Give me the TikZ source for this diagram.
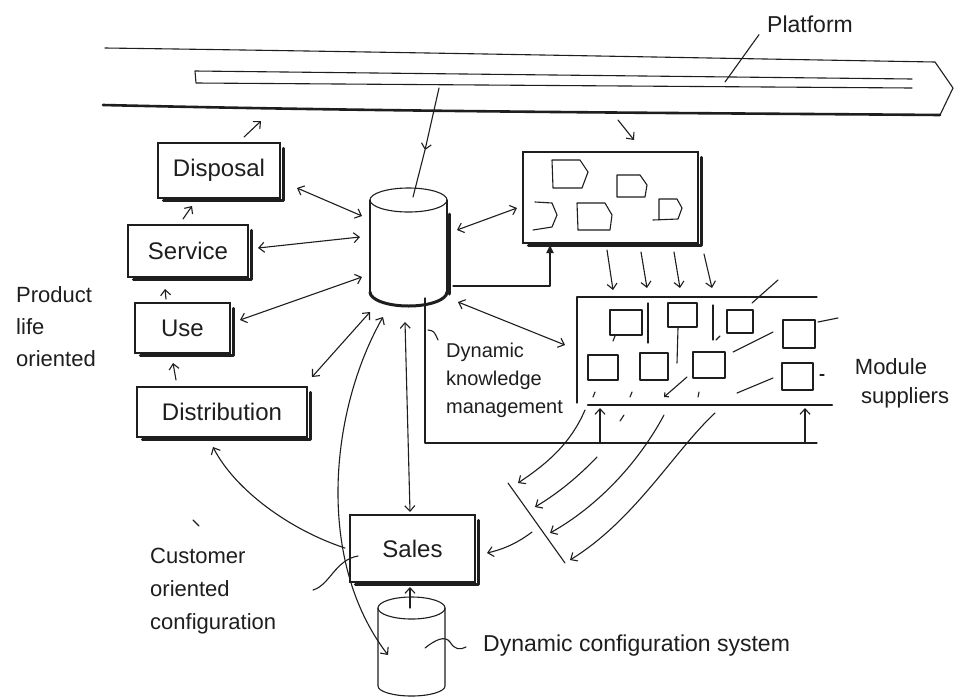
\documentclass[tikz,border=0pt]{standalone}
\usepackage{fontspec}
\setmainfont{Liberation Sans}
\usetikzlibrary{arrows.meta}
\definecolor{ink}{HTML}{1E1E1E}
\begin{document}
\begin{tikzpicture}[x=1pt,y=-1pt,
  sk/.style={draw=ink, line width=1.1pt, line cap=round, line join=round},
  shad/.style={draw=ink, line width=3pt, line cap=round, line join=round},
  tip/.tip={Straight Barb[length=5.5pt,width=10pt,line width=1.1pt]},
  arr/.style={sk, -tip},
  darr/.style={sk, tip-tip},
  fillarr/.style={sk, -{Latex[length=9pt,width=8pt]}},
  boxn/.style={draw=ink, line width=1.1pt, inner sep=0pt, text=ink, font=\fontsize{24}{28}\selectfont},
  lbl/.style={text=ink, inner sep=0pt, align=left, font=\fontsize{22}{33}\selectfont},
  ghost/.style={inner sep=0pt}]
\fill[white] (0,0) rectangle (966,697);
\useasboundingbox (0,0) rectangle (966,697);
\newcommand\shbox[1]{\draw[shad] ([shift={(2.5pt,-6pt)}]#1.north east) -- ([shift={(2.5pt,-2pt)}]#1.south east) -- ([shift={(6pt,-2pt)}]#1.south west);}

% ---------- Platform ----------
\node[ghost, minimum width=850pt, minimum height=70pt] (plat) at (527,82) {};
\draw[sk] (105,48) .. controls (400,52) and (700,58) .. (935,62) -- (953,88) -- (940,115);
\draw[sk, line width=2.6pt] (103,105) .. controls (400,112) and (700,113) .. (940,115);
\draw[sk] (912,79) -- (195,71) -- (196,83) -- (912,88);
\node[lbl, font=\fontsize{23}{28}\selectfont] (ptxt) at (810,24) {Platform};
\draw[sk] (ptxt.south west) ++(-8pt,-2pt) coordinate (pl1) -- (725,82);

% ---------- Main knowledge base cylinder ----------
\node[ghost, minimum width=77pt, minimum height=123pt] (db) at (408.5,248.5) {};
\draw[sk] (370,292) -- (370,200);
\draw[sk] (447,200) -- (447,292);
\draw[sk] (408.5,200) ellipse[x radius=38.5pt, y radius=12pt];
\draw[shad] (449,214) -- (449,294);
\draw[shad] (370,292) arc[start angle=180, end angle=360, x radius=38.5pt, y radius=14pt];

% platform -> db
\draw[arr] (439,88) -- (425,150);
\draw[sk] (425,150) -- (413,197);

% ---------- Product-life boxes ----------
\node[boxn, minimum width=122pt, minimum height=55pt] (disp) at (219,170.5) {Disposal};
\node[boxn, minimum width=120pt, minimum height=52pt] (serv) at (188,251) {Service};
\node[boxn, minimum width=95pt, minimum height=50pt] (use) at (182.5,328) {Use};
\node[boxn, minimum width=170pt, minimum height=50pt] (dist) at (222,412) {Distribution};
\shbox{disp}\shbox{serv}\shbox{use}\shbox{dist}

\draw[arr] (244,137) -- (261,121);
\draw[arr] (183,219) -- (192,206);
\draw[arr] (166,299) -- (165,289);
\draw[arr] (176,380) -- (173,363);

\node[lbl, font=\fontsize{22}{32}\selectfont] (plo) at (56,327) {Product\\life\\oriented};

% box <-> db
\draw[darr] (297,188) -- (362,216);
\draw[darr] (258,248) -- (360,237);
\draw[darr] (240,320) -- (362,277);
\draw[darr] (312,377) -- (370,312);

% ---------- Component box ----------
\node[ghost, draw=ink, line width=1.1pt, minimum width=175pt, minimum height=91pt] (comp) at (610.5,197.5) {};
\shbox{comp}
\draw[sk] (552,160) -- (580,160) -- (588,172) -- (582,188) -- (553,188) -- cycle;
\draw[sk] (617,175) -- (640,175) -- (647,185) -- (645,197) -- (617,197) -- cycle;
\draw[sk] (653,220) -- (678,219) -- (682,208) -- (677,199) -- (659,199) -- (659,219);
\draw[sk] (577,203) -- (605,203) -- (612,215) -- (610,230) -- (578,230) -- cycle;
\draw[sk] (535,202) -- (552,203) -- (557,215) -- (552,227) -- (533,230);
\draw[arr] (618,120) -- (634,140);
\draw[darr] (457,230) -- (517,208);
\draw[fillarr] (453,286) -- (550,286) -- (550,244);

% arrows comp -> modules
\draw[arr] (607,250) -- (613,290);
\draw[arr] (641,252) -- (647,288);
\draw[arr] (674,252) -- (680,288);
\draw[arr] (704,254) -- (712,288);

% ---------- Module suppliers ----------
\node[ghost, minimum width=255pt, minimum height=108pt] (mod) at (704.5,351) {};
\draw[sk] (817,297) -- (577,297) -- (577,403);
\draw[shad, line width=2.6pt] (588,405) -- (832,405);
\draw[sk] (610,310) rectangle (642,335);
\draw[sk] (648,303) -- (648,343);
\draw[sk] (668,303) rectangle (697,327);
\draw[sk] (678,328) -- (677,363);
\draw[sk] (713,305) -- (713,340);
\draw[sk] (727,310) rectangle (753,333);
\draw[sk] (752,303) -- (778,280);
\draw[sk] (783,320) rectangle (815,348);
\draw[sk] (818,322) -- (838,318);
\draw[sk] (588,355) rectangle (618,380);
\draw[sk] (640,353) rectangle (668,380);
\draw[sk] (693,352) rectangle (725,378);
\draw[sk] (782,363) rectangle (813,390);
\draw[sk] (820,375) -- (824,375);
\draw[sk] (733,352) -- (773,332);
\draw[sk] (737,393) -- (773,378);
\draw[sk] (613,341) -- (615,336);
\draw[sk] (716,340) -- (720,336);
\draw[sk] (593,397) -- (595,392);
\draw[sk] (630,397) -- (632,392);
\draw[sk] (698,397) -- (699,392);
\draw[sk] (620,421) -- (624,415);
\draw[sk, -{Straight Barb[length=3pt,width=6pt]}] (687,377) -- (664,397);
\node[lbl, font=\fontsize{22}{29}\selectfont] (mtxt) at (902,383) {Module\\ \ suppliers};

\draw[darr] (458,302) -- (565,345);
\draw[sk] (425,298) -- (425,443) -- (817,443);
\draw[arr] (600,443) -- (600,408);
\draw[arr] (805,443) -- (805,408);

\node[lbl, font=\fontsize{20}{28}\selectfont, anchor=north west] (dkm) at (446,343) {Dynamic\\knowledge\\management};
\draw[sk] (428,330) .. controls (434,331) .. (438,340);

% ---------- Sales ----------
\node[boxn, minimum width=125pt, minimum height=67pt] (sales) at (412.5,548.5) {Sales};
\shbox{sales}
\draw[darr] (405,322) -- (410,512);
\draw[darr] (383,317) .. controls (330,410) and (315,560) .. (388,655);
\draw[arr] (345,548) .. controls (290,530) and (235,490) .. (213,447);

% diagonal collector
\coordinate (dg1) at (508,483);
\coordinate (dg2) at (565,563);
\draw[sk] (dg1) -- (dg2);
\draw[arr] (585,410) .. controls (570,445) and (545,465) .. (518,483);
\draw[arr] (597,457) .. controls (575,480) and (555,495) .. (535,507);
\draw[arr] (664,415) .. controls (640,460) and (600,505) .. (550,533);
\draw[arr] (715,413) .. controls (675,450) and (635,520) .. (570,560);
\draw[arr] (532,532) .. controls (515,545) and (500,550) .. (487,553);

% ---------- configuration cylinder ----------
\node[ghost, minimum width=67pt, minimum height=100pt] (cfg) at (411.5,647) {};
\draw[sk] (378,608) -- (378,686) arc[start angle=180, end angle=360, x radius=33.5pt, y radius=10pt] -- (445,608);
\draw[sk] (411.5,608) ellipse[x radius=33.5pt, y radius=11pt];
\draw[arr] (410,608) -- (410,587);

\node[lbl, anchor=north west] (coc) at (150,548) {Customer\\oriented\\configuration};
\draw[sk] (313,590) .. controls (330,585) and (335,560) .. (358,556);
\draw[sk] (193,520) -- (199,526);

\node[lbl, font=\fontsize{23}{28}\selectfont, anchor=west] (dcs) at (483,646) {Dynamic configuration system};
\draw[sk] (425,648) .. controls (435,640) and (445,635) .. (450,642) .. controls (455,650) and (460,650) .. (466,647);
\end{tikzpicture}
\end{document}
